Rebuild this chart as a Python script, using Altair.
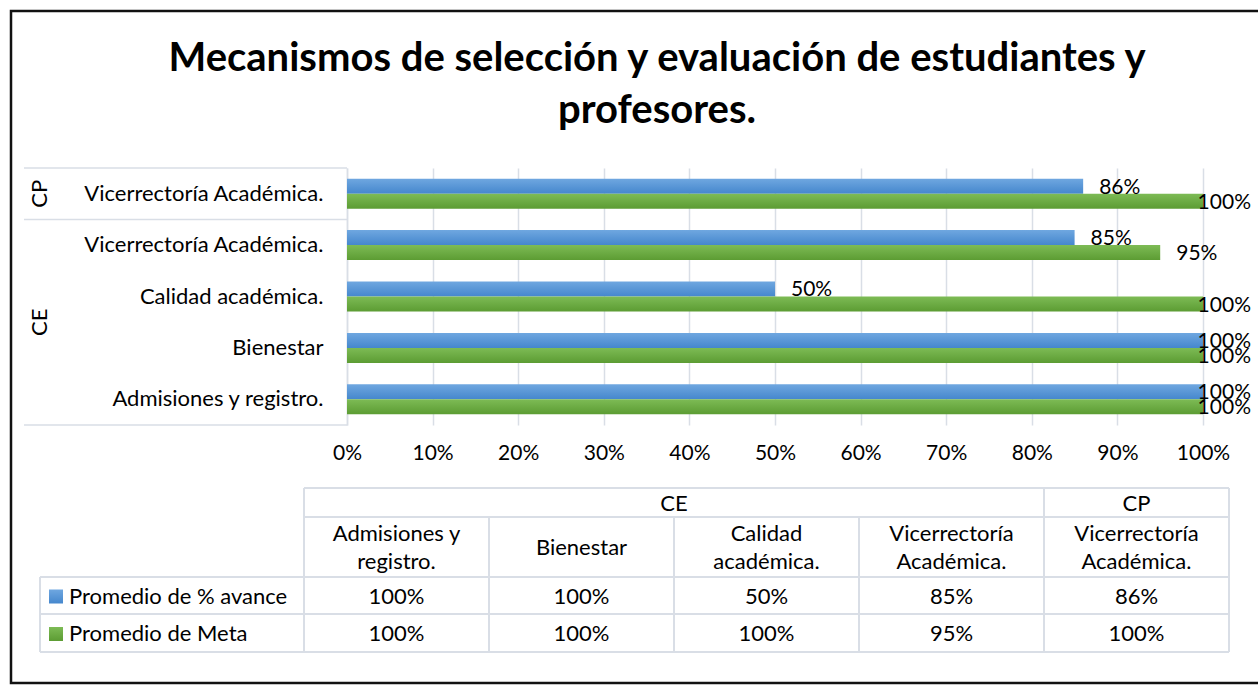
import altair as alt
import pandas as pd

FONT = "Lato"

# ---------------- data ----------------
title_lines = ["Mecanismos de selección y evaluación de estudiantes y", "profesores."]
groups = ["CE", "CE", "CE", "CE", "CP"]
categories = ["Admisiones y registro.", "Bienestar", "Calidad académica.",
              "Vicerrectoría Académica.", "Vicerrectoría Académica."]
avance = [1.00, 1.00, 0.50, 0.85, 0.86]
meta = [1.00, 1.00, 1.00, 0.95, 1.00]
series_keys = ["avance", "meta"]
series_names = ["Promedio de % avance", "Promedio de Meta"]
x_ticks = [0, 0.1, 0.2, 0.3, 0.4, 0.5, 0.6, 0.7, 0.8, 0.9, 1.0]

# ---------------- layout (pixels) ----------------
PLOT_L, PLOT_T, PLOT_W, PLOT_H = 347, 168, 856, 257
TOTAL_W, TOTAL_H = 1258, 687
GRID = "#d9dee6"
BLUE = {"gradient": "linear", "x1": 0, "y1": 0, "x2": 0, "y2": 1,
        "stops": [{"offset": 0, "color": "#6fa7e0"}, {"offset": 1, "color": "#4587cd"}]}
GREEN = {"gradient": "linear", "x1": 0, "y1": 0, "x2": 0, "y2": 1,
         "stops": [{"offset": 0, "color": "#7dbb55"}, {"offset": 1, "color": "#5c9c33"}]}
n = len(categories)
LH = 28  # header line height

keys = [f"{g}|{c}" for g, c in zip(groups, categories)]
bar_order = keys[::-1]

rows = []
for i, (k, g, c) in enumerate(zip(keys, groups, categories)):
    hdr_lines = c.rsplit(" ", 1)
    for s, sname, vals in zip(series_keys, series_names, (avance, meta)):
        v = vals[i]
        rows.append({"key": k, "group": g, "cat": c, "series": s, "sname": sname,
                     "value": v, "pct": f"{round(v * 100)}%",
                     "labelpos": min(v, 0.975), "idx": i, "row": n - 1 - i,
                     "hdr": "\n".join(hdr_lines), "nlines": len(hdr_lines)})
df = pd.DataFrame(rows)
df_cat = df[df.series == "avance"]
df_leg = pd.DataFrame({"series": series_keys, "sname": series_names})

# ---------------- bar chart ----------------
xscale = alt.Scale(domain=[0, 1], nice=False, zero=True)
yscale = alt.Scale(domain=bar_order, paddingInner=0.416, paddingOuter=0.208)
yoff = alt.YOffset("series:N", scale=alt.Scale(domain=series_keys))
color_cond = alt.condition("datum.series == 'avance'", alt.value(BLUE), alt.value(GREEN))

bars = alt.Chart(df).mark_bar().encode(
    x=alt.X("value:Q", scale=xscale,
            axis=alt.Axis(values=x_ticks, format=".0%", grid=True, gridColor=GRID, gridWidth=1.5,
                          domain=False, ticks=False, labelFontSize=21, labelFont=FONT,
                          labelColor="#000", labelPadding=17, title=None, labelFlush=False)),
    y=alt.Y("key:N", sort=bar_order, scale=yscale,
            axis=alt.Axis(labelExpr="split(datum.label, '|')[1]", domain=True, domainColor=GRID,
                          domainWidth=1.5, ticks=False, labelFontSize=22, labelFont=FONT,
                          labelColor="#000", labelPadding=24, labelLimit=400, title=None, grid=False)),
    yOffset=yoff,
    color=color_cond,
)
labels = alt.Chart(df).mark_text(align="left", baseline="middle", dx=16, dy=1.5,
                                 fontSize=21, font=FONT, color="#000").encode(
    x=alt.X("labelpos:Q", scale=xscale, title=None),
    y=alt.Y("key:N", sort=bar_order, scale=yscale, title=None),
    yOffset=yoff,
    text="pct:N",
)
main = alt.layer(bars, labels)

# ---------------- hierarchical category axis ----------------
rowscale = alt.Scale(domain=[-0.5, n - 0.5], range=[0, PLOT_H], nice=False, zero=False)
grp_labels = alt.Chart(df_cat).mark_text(angle=270, fontSize=22, font=FONT, color="#000",
                                         baseline="middle", align="center").encode(
    y=alt.Y("mean(row):Q", scale=rowscale, axis=None),
    x=alt.value(40 - PLOT_L),
    text="group:N",
)
bounds = sorted({b for g in set(groups)
                 for b in (df_cat[df_cat.group == g].row.min() - 0.5,
                           df_cat[df_cat.group == g].row.max() + 0.5)})
sep = alt.Chart(pd.DataFrame({"b": bounds})).mark_rule(color=GRID, strokeWidth=1.5).encode(
    y=alt.Y("b:Q", scale=rowscale, axis=None),
    x=alt.value(24 - PLOT_L), x2=alt.value(0),
)

# ---------------- data table ----------------
T_L, T_COLW = 304 - PLOT_L, 185
colscale = alt.Scale(domain=[-0.5, n - 0.5], range=[T_L, T_L + T_COLW * n], nice=False, zero=False)
Y_TOP, Y_GRP, Y_HDR, Y_R1, Y_R2, Y_BOT = [v - PLOT_T for v in (488, 517, 577, 614, 652, 652)]
LEFT = 40 - PLOT_L
serscale = alt.Scale(type="point", domain=series_keys,
                     range=[(Y_HDR + Y_R1) / 2 + 1, (Y_R1 + Y_R2) / 2 + 1], padding=0)
hdr_mid = (Y_GRP + Y_HDR) / 2 + 1
nlscale = alt.Scale(domain=[1, 2], range=[hdr_mid, hdr_mid - LH / 2], nice=False, zero=False)

grp_hdr = alt.Chart(df_cat).mark_text(fontSize=22, font=FONT, color="#000", baseline="middle").encode(
    x=alt.X("mean(idx):Q", scale=colscale, axis=None),
    y=alt.value((Y_TOP + Y_GRP) / 2 + 1),
    text="group:N",
)
cat_hdr = alt.Chart(df_cat).mark_text(fontSize=22, font=FONT, color="#000", baseline="middle",
                                      lineBreak="\n", lineHeight=LH).encode(
    x=alt.X("idx:Q", scale=colscale, axis=None),
    y=alt.Y("nlines:Q", scale=nlscale, axis=None),
    text="hdr:N",
)
vals = alt.Chart(df).mark_text(fontSize=22, font=FONT, color="#000", baseline="middle").encode(
    x=alt.X("idx:Q", scale=colscale, axis=None),
    y=alt.Y("series:N", scale=serscale, axis=None),
    text="pct:N",
)
leg_txt = alt.Chart(df_leg).mark_text(fontSize=22, font=FONT, color="#000", baseline="middle",
                                      align="left").encode(
    x=alt.value(69 - PLOT_L),
    y=alt.Y("series:N", scale=serscale, axis=None),
    text="sname:N",
)
leg_sq = alt.Chart(df_leg).mark_point(shape="square", filled=True, size=196, opacity=1).encode(
    x=alt.value(56 - PLOT_L),
    y=alt.Y("series:N", scale=serscale, axis=None),
    color=color_cond,
)

# table borders (cell structure, in pixels relative to plot origin)
col_edges = [T_L + T_COLW * j for j in range(n + 1)]
group_edges = [col_edges[0]] + [col_edges[j] for j in range(1, n) if groups[j] != groups[j - 1]] + [col_edges[-1]]
lines = []
for x in col_edges:
    top = Y_TOP if x in group_edges else Y_GRP
    lines.append({"x": x, "x2": x, "y": top, "y2": Y_BOT})
lines.append({"x": LEFT, "x2": LEFT, "y": Y_HDR, "y2": Y_BOT})
for y in (Y_TOP, Y_GRP):
    lines.append({"x": col_edges[0], "x2": col_edges[-1], "y": y, "y2": y})
for y in (Y_HDR, Y_R1, Y_R2):
    lines.append({"x": LEFT, "x2": col_edges[-1], "y": y, "y2": y})
tbl_lines = alt.Chart(pd.DataFrame(lines)).mark_rule(color=GRID, strokeWidth=2).encode(
    x=alt.X("x:Q", scale=None), x2="x2:Q",
    y=alt.Y("y:Q", scale=None), y2="y2:Q",
)

# ---------------- title and frame ----------------
title = alt.Chart(pd.DataFrame({"t": ["\n".join(title_lines)]})).mark_text(
    fontSize=40, font=FONT, fontWeight="bold", color="#000", baseline="middle", align="center",
    lineBreak="\n", lineHeight=52).encode(
    x=alt.value(657 - PLOT_L), y=alt.value(59 - PLOT_T), text="t:N")

frame = alt.Chart(pd.DataFrame({"a": [0]})).mark_rect(
    fill="transparent", stroke="#111", strokeWidth=2.5).encode(
    x=alt.value(11 - PLOT_L), x2=alt.value(1270 - PLOT_L),
    y=alt.value(11 - PLOT_T), y2=alt.value(683 - PLOT_T))

chart = alt.layer(
    frame, main, sep, grp_labels, tbl_lines, grp_hdr, cat_hdr, vals, leg_txt, leg_sq, title
).resolve_scale(x="independent", y="independent").properties(
    width=PLOT_W, height=PLOT_H,
    padding={"left": PLOT_L, "top": PLOT_T, "right": TOTAL_W - PLOT_L - PLOT_W,
             "bottom": TOTAL_H - PLOT_T - PLOT_H},
    autosize=alt.AutoSizeParams(type="none"),
).configure(background="white").configure_view(stroke=None)

chart.save("out.html", embed_options={"renderer": "svg", "actions": False})
